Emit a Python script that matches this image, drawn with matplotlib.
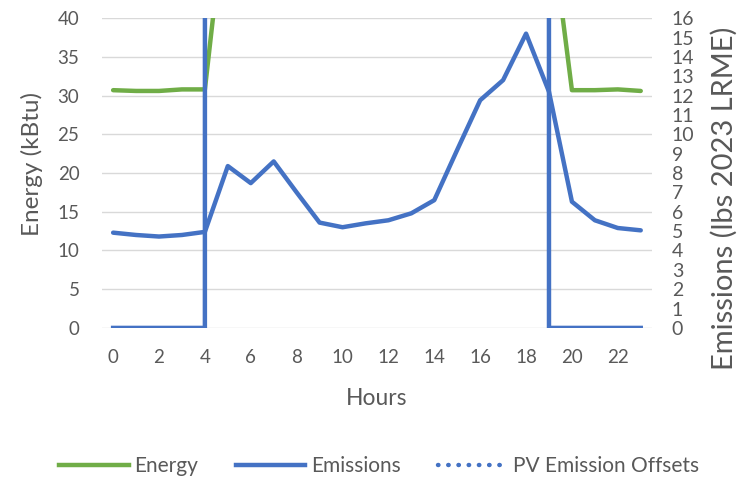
import matplotlib.pyplot as plt
from matplotlib.lines import Line2D

# hourly data
hours = list(range(24))
energy = [30.7, 30.6, 30.6, 30.8, 30.8, 57, 60, 62, 63, 64, 65, 65,
          64, 63, 62, 61, 60, 58, 56, 54, 30.7, 30.7, 30.8, 30.6]
emissions = [4.92, 4.80, 4.72, 4.80, 4.96, 8.36, 7.48, 8.60, 7.00, 5.44, 5.20, 5.40,
             5.56, 5.92, 6.60, 9.20, 11.76, 12.80, 15.20, 12.20, 6.52, 5.56, 5.16, 5.04]
# PV series: zero outside daylight, far above the axis range during the day
pv_step = [0, 0, 0, 0, 0, 9000, 9000, 9000, 9000, 9000, 9000, 9000,
           9000, 9000, 9000, 9000, 9000, 9000, 9000, 0, 0, 0, 0, 0]

green = '#70AD47'
blue = '#4472C4'
grey = '#595959'

plt.rcParams['font.family'] = ['Lato', 'DejaVu Sans']

fig = plt.figure(figsize=(7.42, 4.78), dpi=100)
ax = fig.add_axes([0.137, 0.314, 0.742, 0.648])
ax2 = ax.twinx()

ax.plot(hours, energy, color=green, lw=3.2, solid_capstyle='round')
ax2.plot(hours, emissions, color=blue, lw=3.2, solid_capstyle='round')
ax2.plot(hours, pv_step, color=blue, lw=3.2)

ax.set_xlim(-0.5, 23.5)
ax.set_ylim(0, 40)
ax2.set_ylim(0, 16)
ax.set_yticks(range(0, 41, 5))
ax2.set_yticks(range(0, 17))
ax.set_xticks(range(0, 23, 2))

ax.grid(axis='y', color='#D9D9D9', lw=1)
ax.set_axisbelow(True)
for a in (ax, ax2):
    for s in a.spines.values():
        s.set_visible(False)

ax.tick_params(axis='both', length=0, labelsize=13.5, colors=grey)
ax.tick_params(axis='y', pad=16)
ax.tick_params(axis='x', pad=15)
ax2.tick_params(axis='y', length=0, pad=14, colors=grey, labelsize=14)

ax.set_xlabel('Hours', fontsize=16.5, color=grey, labelpad=16)
ax.set_ylabel('Energy (kBtu)', fontsize=17.5, color=grey)
ax.yaxis.set_label_coords(-0.106, 0.53)
ax2.set_ylabel('Emissions (lbs 2023 LRME)', fontsize=21, color=grey)
ax2.yaxis.set_label_coords(1.107, 0.42)

handles = [
    Line2D([], [], color=green, lw=3.2),
    Line2D([], [], color=blue, lw=3.2),
    Line2D([], [], color=blue, lw=3.2, linestyle=(0, (0.1, 2.2)), dash_capstyle='round'),
]
fig.legend(handles, ['Energy', 'Emissions', 'PV Emission Offsets'],
           loc='center', bbox_to_anchor=(0.511, 0.025), ncol=3, frameon=False,
           fontsize=15, labelcolor=grey, handlelength=3.35, columnspacing=1.8,
           handletextpad=0.25)

fig.savefig('out.png', dpi=100)
